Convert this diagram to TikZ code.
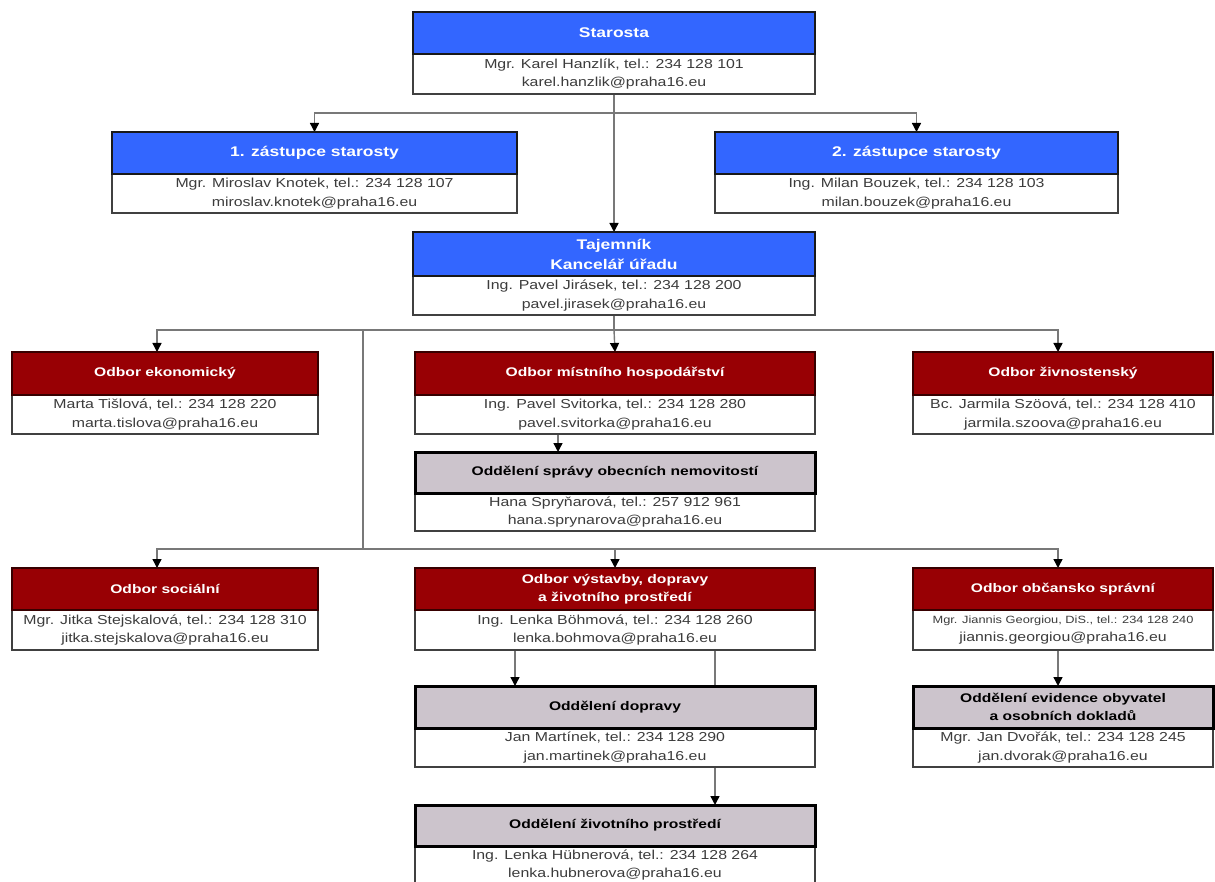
\documentclass[tikz,border=0pt]{standalone}
\usepackage{fontspec}
\setmainfont{Liberation Sans}
\newfontfamily\hdfont[FakeStretch=1.25]{Liberation Sans Bold}
\newfontfamily\bdfont[FakeStretch=1.22]{Liberation Sans}
\newcommand\smallbodyfont{\fontsize{10.5}{18.5}\selectfont}
\usetikzlibrary{arrows.meta}
\definecolor{bluef}{RGB}{51,102,255}
\definecolor{redf}{RGB}{152,0,4}
\definecolor{redd}{RGB}{55,0,0}
\definecolor{grayf}{RGB}{204,196,204}
\definecolor{bodyt}{RGB}{60,60,60}
\definecolor{linec}{RGB}{120,120,120}
\pgfdeclarelayer{bg}
\pgfsetlayers{bg,main}
\tikzset{
  boxbase/.style={anchor=north west, inner sep=0pt, outer sep=0pt, align=center},
  bodybox/.style={boxbase, draw=black!75, line width=1.5pt, fill=white, text=bodyt,
    font=\bdfont\fontsize{13}{18.5}\selectfont},
  bluehd/.style={boxbase, draw=black!90, line width=2.8pt, fill=bluef, text=white,
    font=\hdfont\fontsize{14}{20}\selectfont},
  redhd/.style={boxbase, draw=redd, line width=2.8pt, fill=redf, text=white,
    font=\hdfont\fontsize{12.5}{18}\selectfont},
  grayhd/.style={boxbase, draw=black, line width=3pt, fill=grayf, text=black,
    font=\hdfont\fontsize{12.5}{18}\selectfont},
  conn/.style={draw=linec, line width=1.4pt},
  arr/.style={conn, -{Triangle[width=9pt,length=9pt,color=black]}}
}
% #1 name, #2 x left, #3 y top, #4 width, #5 header height, #6 body height,
% #7 header style, #8 header text, #9 body text
\newcommand\obox[9]{%
  \node[bodybox, minimum width=#4pt, minimum height=#6pt] (#1b) at (#2,#3+#5) {#9};
  \node[#7, minimum width=#4pt, minimum height=#5pt] (#1h) at (#2,#3) {#8};
}
\begin{document}
\begin{tikzpicture}[x=1pt,y=-1pt]
\useasboundingbox (0,0) rectangle (1215,882);

\obox{star}{413}{12}{402}{42}{40}{bluehd}{Starosta}{Mgr. Karel Hanzlík, tel.: 234 128 101\\karel.hanzlik@praha16.eu}
\obox{zasa}{112}{132}{405}{42}{39}{bluehd}{1. zástupce starosty}{Mgr. Miroslav Knotek, tel.: 234 128 107\\miroslav.knotek@praha16.eu}
\obox{zasb}{715}{132}{403}{42}{39}{bluehd}{2. zástupce starosty}{Ing. Milan Bouzek, tel.: 234 128 103\\milan.bouzek@praha16.eu}
\obox{taj}{413}{232}{402}{44}{39}{bluehd}{Tajemník\\Kancelář úřadu}{Ing. Pavel Jirásek, tel.: 234 128 200\\pavel.jirasek@praha16.eu}

\obox{eko}{12}{352}{306}{43}{39}{redhd}{Odbor ekonomický}{Marta Tišlová, tel.: 234 128 220\\marta.tislova@praha16.eu}
\obox{mis}{415}{352}{400}{43}{39}{redhd}{Odbor místního hospodářství}{Ing. Pavel Svitorka, tel.: 234 128 280\\pavel.svitorka@praha16.eu}
\obox{zivn}{913}{352}{300}{43}{39}{redhd}{Odbor živnostenský}{Bc. Jarmila Szöová, tel.: 234 128 410\\jarmila.szoova@praha16.eu}
\obox{spr}{415}{452}{400}{41}{38}{grayhd}{Oddělení správy obecních nemovitostí}{Hana Spryňarová, tel.: 257 912 961\\hana.sprynarova@praha16.eu}

\obox{soc}{12}{568}{306}{42}{40}{redhd}{Odbor sociální}{Mgr. Jitka Stejskalová, tel.: 234 128 310\\jitka.stejskalova@praha16.eu}
\obox{vys}{415}{568}{400}{42}{40}{redhd}{Odbor výstavby, dopravy\\a životního prostředí}{Ing. Lenka Böhmová, tel.: 234 128 260\\lenka.bohmova@praha16.eu}
\obox{obc}{913}{568}{300}{42}{40}{redhd}{Odbor občansko správní}{{\smallbodyfont Mgr. Jiannis Georgiou, DiS., tel.: 234 128 240}\\jiannis.georgiou@praha16.eu}

\obox{dop}{415}{686}{400}{42}{39}{grayhd}{Oddělení dopravy}{Jan Martínek, tel.: 234 128 290\\jan.martinek@praha16.eu}
\obox{evi}{913}{686}{300}{42}{39}{grayhd}{Oddělení evidence obyvatel\\a osobních dokladů}{Mgr. Jan Dvořák, tel.: 234 128 245\\jan.dvorak@praha16.eu}
\obox{zivp}{415}{805}{400}{41}{38}{grayhd}{Oddělení životního prostředí}{Ing. Lenka Hübnerová, tel.: 234 128 264\\lenka.hubnerova@praha16.eu}

\begin{pgfonlayer}{bg}
  \fill[white] (0,0) rectangle (1215,882);
  \path (starb.south) ++(0,19) coordinate (j1);
  \draw[conn] (starb.south) -- (j1);
  \draw[arr] (j1) -| (zasah.north);
  \draw[arr] (j1) -| (zasbh.north);
  \draw[arr] (j1) -- (tajh.north);

  \path (tajb.south) ++(0,15) coordinate (j2);
  \draw[conn] (tajb.south) -- (j2);
  \draw[arr] (j2) -| ([xshift=-8]ekoh.north);
  \draw[arr] (j2) -- (mish.north);
  \draw[arr] (j2) -| ([xshift=-5]zivnh.north);

  \coordinate (j3) at (363,330);
  \coordinate (j4) at (363,549);
  \draw[conn] (j3) -- (j4);
  \draw[arr] (j4) -| ([xshift=-8]soch.north);
  \draw[arr] (j4) -| (vysh.north);
  \draw[arr] (j4) -| ([xshift=-5]obch.north);

  \draw[arr] ([xshift=-57]misb.south) -- ([xshift=-57]sprh.north);
  \draw[arr] ([xshift=-100]vysb.south) -- ([xshift=-100]doph.north);
  \draw[arr] ([xshift=100]vysb.south) -- ([xshift=100]zivph.north);
  \draw[arr] ([xshift=-5]obcb.south) -- ([xshift=-5]evih.north);
\end{pgfonlayer}
\end{tikzpicture}
\end{document}
